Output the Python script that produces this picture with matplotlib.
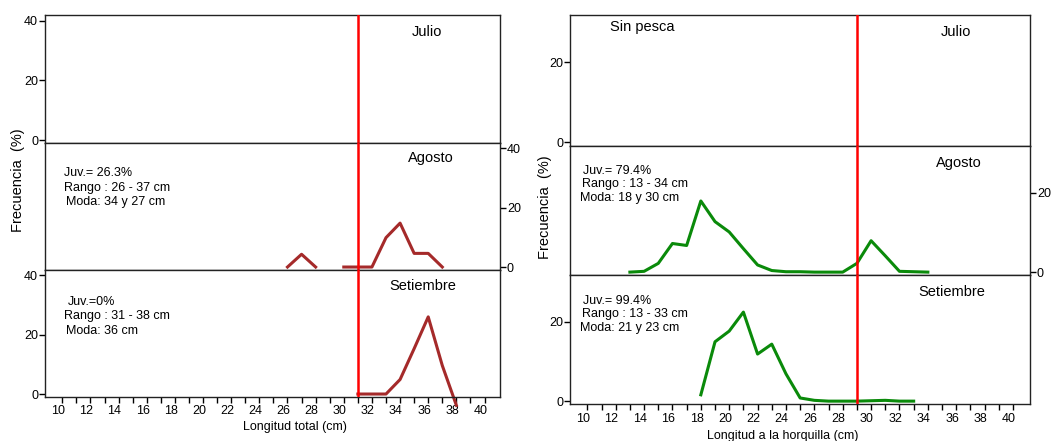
import numpy as np
import matplotlib
matplotlib.use("Agg")
import matplotlib.pyplot as plt
from matplotlib.transforms import ScaledTranslation

plt.rcParams['font.family'] = ['Liberation Sans', 'DejaVu Sans']

# datos: longitud total (panel izquierdo)
x_izq_ago = [26, 27, 28, 29, 30, 31, 32, 33, 34, 35, 36, 37]
f_izq_ago = [0, 4.3, 0, np.nan, 0, 0, 0, 9.9, 14.8, 4.6, 4.6, 0]
x_izq_set = [31, 32, 33, 34, 35, 36, 37, 38]
f_izq_set = [0, 0, 0, 4.9, 15.3, 26.0, 9.6, -3.8]

# datos: longitud a la horquilla (panel derecho)
x_der_ago = list(range(13, 35))
f_der_ago = [0, 0.2, 2.2, 7.2, 6.7, 17.9, 12.7, 10.1, 5.9, 1.8, 0.4,
             0.1, 0.1, 0, 0, 0, 2.2, 7.9, 4.1, 0.2, 0.1, 0]
x_der_set = list(range(18, 34))
f_der_set = [1.6, 15.0, 17.7, 22.5, 11.9, 14.4, 6.9, 0.8, 0.2, 0, 0, 0,
             0.1, 0.2, 0, 0]

xticks = list(range(10, 41))
xlabels = [str(v) if v % 2 == 0 else "" for v in xticks]

W, H = 1056, 441
fig = plt.figure(figsize=(W / 100, H / 100), dpi=100)


def px_axes(x0, x1, y0, y1):
    return fig.add_axes([x0 / W, 1 - y1 / H, (x1 - x0) / W, (y1 - y0) / H])


def ftext(x, y, s, **kw):
    fig.text(x / W, 1 - y / H, s, va="center", **kw)


def panel(ax, xlim, ylim, yticks, lado, limite):
    ax.set_xlim(*xlim)
    ax.set_ylim(*ylim)
    for sp in ax.spines.values():
        sp.set_color("#222222")
        sp.set_linewidth(1.0)
    ax.axvline(limite, color="red", lw=1.8, zorder=5)
    ax.set_yticks(yticks)
    ax.tick_params(axis="y", direction="out", length=4, width=1,
                   labelsize=9, pad=1,
                   left=(lado == "left"), labelleft=(lado == "left"),
                   right=(lado == "right"), labelright=(lado == "right"))
    ax.set_xticks([])


def eje_x(ax):
    ax.set_xticks(xticks)
    ax.set_xticklabels(xlabels, fontsize=9)
    ax.tick_params(axis="x", direction="out", length=4, width=1, pad=2)
    off = ScaledTranslation(-3 / 72, 0, fig.dpi_scale_trans)
    for lab in ax.get_xticklabels():
        lab.set_transform(lab.get_transform() + off)


# ---- panel izquierdo ----
lx0, lx1 = 45, 500
lys = [15, 142.7, 269.7, 396.7]
xlim_l = (8.77, 41.1)
ylim_l = (-0.9, 41.9)
rojo_osc = "#a52a2a"
axs_l = []
for i in range(3):
    ax = px_axes(lx0, lx1, lys[i], lys[i + 1])
    panel(ax, xlim_l, ylim_l, [0, 20, 40], "right" if i == 1 else "left", 31)
    axs_l.append(ax)
axs_l[1].plot(x_izq_ago, f_izq_ago, color=rojo_osc, lw=2.2)
axs_l[2].plot(x_izq_set, f_izq_set, color=rojo_osc, lw=2.2, clip_on=False)
eje_x(axs_l[2])

ftext(427, 31.7, "Julio", ha="center", fontsize=10.5)
ftext(430.7, 158.3, "Agosto", ha="center", fontsize=10.5)
ftext(422.7, 286, "Setiembre", ha="center", fontsize=10.5)
ftext(64.3, 173.3, "Juv.= 26.3%", fontsize=9)
ftext(64.3, 187.7, "Rango : 26 - 37 cm", fontsize=9)
ftext(65.5, 202.3, "Moda: 34 y 27 cm", fontsize=9)
ftext(67.7, 301.7, "Juv.=0%", fontsize=9)
ftext(64.3, 315.7, "Rango : 31 - 38 cm", fontsize=9)
ftext(65.5, 331, "Moda: 36 cm", fontsize=9)
ftext(18, 180.5, "Frecuencia  (%)", ha="center", rotation=90, fontsize=10.5)
ftext(295, 427.3, "Longitud total (cm)", ha="center", fontsize=9)

# ---- panel derecho ----
rx0, rx1 = 570.3, 1030
rys = [15, 145.7, 275.3, 404.3]
xlim_r = (8.8, 41.2)
ylim_r = (-0.8, 31.8)
verde = "#0a8a0a"
axs_r = []
for i in range(3):
    ax = px_axes(rx0, rx1, rys[i], rys[i + 1])
    panel(ax, xlim_r, ylim_r, [0, 20], "right" if i == 1 else "left", 29)
    axs_r.append(ax)
axs_r[1].plot(x_der_ago, f_der_ago, color=verde, lw=2.2)
axs_r[2].plot(x_der_set, f_der_set, color=verde, lw=2.2)
eje_x(axs_r[2])

ftext(610, 26.7, "Sin pesca", fontsize=10.5)
ftext(955.7, 32.3, "Julio", ha="center", fontsize=10.5)
ftext(959, 162.7, "Agosto", ha="center", fontsize=10.5)
ftext(951.7, 292, "Setiembre", ha="center", fontsize=10.5)
ftext(582.7, 171, "Juv.= 79.4%", fontsize=9)
ftext(582.3, 184.3, "Rango : 13 - 34 cm", fontsize=9)
ftext(580, 197.7, "Moda: 18 y 30 cm", fontsize=9)
ftext(582.7, 301, "Juv.= 99.4%", fontsize=9)
ftext(582.3, 314.3, "Rango : 13 - 33 cm", fontsize=9)
ftext(580, 327.7, "Moda: 21 y 23 cm", fontsize=9)
ftext(545, 207.5, "Frecuencia  (%)", ha="center", rotation=90, fontsize=10.5)
ftext(782.3, 435.7, "Longitud a la horquilla (cm)", ha="center", fontsize=9)

fig.savefig("out.png", dpi=100)
plt.close(fig)
